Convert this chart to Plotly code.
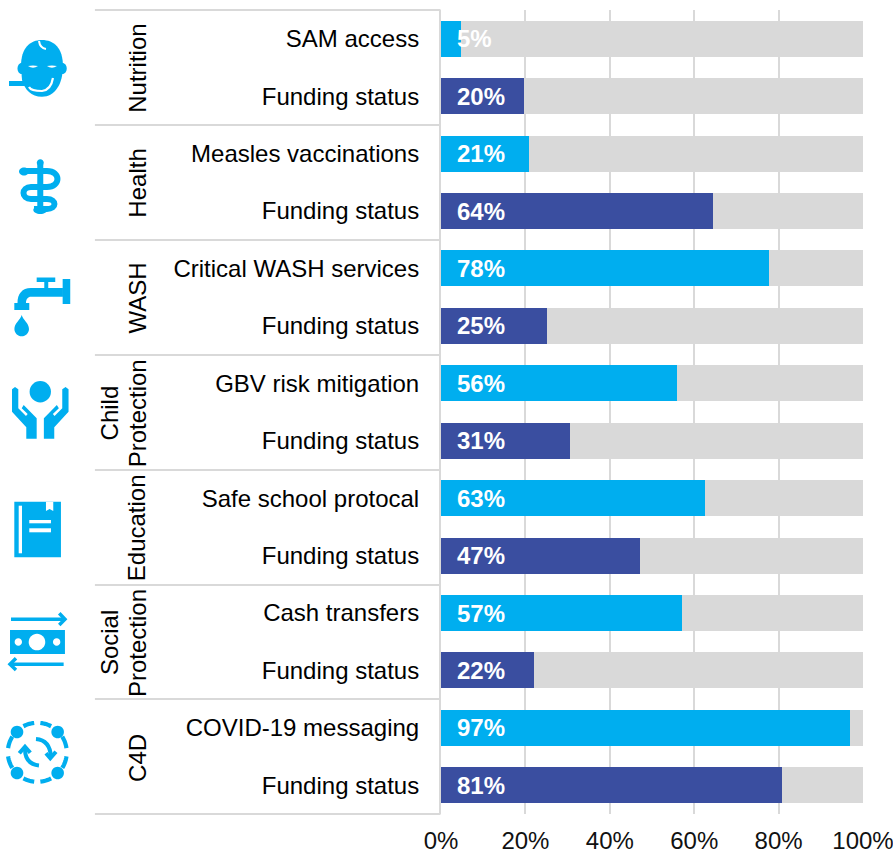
import re
import numpy as np
import plotly.graph_objects as go

indicators = ["SAM access", "Funding status", "Measles vaccinations", "Funding status",
              "Critical WASH services", "Funding status", "GBV risk mitigation", "Funding status",
              "Safe school protocal", "Funding status", "Cash transfers", "Funding status",
              "COVID-19 messaging", "Funding status"]
values = [4.8, 19.7, 20.8, 64.4, 77.8, 25.1, 55.9, 30.6, 62.5, 47.1, 57.1, 22.1, 96.8, 80.8]
value_labels = ["5%", "20%", "21%", "64%", "78%", "25%", "56%", "31%", "63%", "47%", "57%", "22%", "97%", "81%"]
remainder = [round(100 - v, 1) for v in values]
groups = [["Nutrition"], ["Health"], ["WASH"], ["Child", "Protection"], ["Education"], ["Social", "Protection"], ["C4D"]]
group_rows = [0.5, 2.5, 4.5, 6.5, 8.5, 10.5, 12.5]
x_ticks = [0, 20, 40, 60, 80, 100]
x_tick_labels = ["0%", "20%", "40%", "60%", "80%", "100%"]

CYAN = "#00AEEF"
NAVY = "#3A4EA0"
GREY = "#D9D9D9"
FONT = "Liberation Sans"
SIZE = 24

W, H = 893, 852
L, R, T, B = 440.5, 863.0, 10.0, 814.0
rows = list(range(len(values)))
bar_colors = [CYAN if i % 2 == 0 else NAVY for i in rows]


def px(x):
    return (x - L) / (R - L)


def py(y):
    return 1 - (y - T) / (B - T)


def to_paper(path):
    out, is_x = [], True
    for tok in re.findall(r"[A-Za-z]|-?\d+\.?\d*", path):
        if tok.isalpha():
            out.append(tok)
            is_x = True
        else:
            out.append(f"{px(float(tok)):.5f}" if is_x else f"{py(float(tok)):.5f}")
            is_x = not is_x
    return " ".join(out)


shapes = []


def fill(path, color=CYAN):
    shapes.append(dict(type="path", xref="paper", yref="paper", path=to_paper(path),
                       fillcolor=color, line=dict(width=0), layer="above"))


def stroke(path, width, color=CYAN):
    shapes.append(dict(type="path", xref="paper", yref="paper", path=to_paper(path),
                       fillcolor="rgba(0,0,0,0)", line=dict(color=color, width=width), layer="above"))


def ell(cx, cy, rx, ry=None):
    ry = rx if ry is None else ry
    k = 0.5523
    return (f"M {cx-rx} {cy} C {cx-rx} {cy-k*ry} {cx-k*rx} {cy-ry} {cx} {cy-ry} "
            f"C {cx+k*rx} {cy-ry} {cx+rx} {cy-k*ry} {cx+rx} {cy} "
            f"C {cx+rx} {cy+k*ry} {cx+k*rx} {cy+ry} {cx} {cy+ry} "
            f"C {cx-k*rx} {cy+ry} {cx-rx} {cy+k*ry} {cx-rx} {cy} Z")


def rect(x0, y0, x1, y1):
    return f"M {x0} {y0} L {x1} {y0} L {x1} {y1} L {x0} {y1} Z"


def arc(cx, cy, r, a0, a1):
    a = np.radians(np.linspace(a0, a1, 8))
    pts = [f"{cx + r*np.cos(t):.2f} {cy - r*np.sin(t):.2f}" for t in a]
    return "M " + " L ".join(pts)


# group separators
for y in [10, 125, 240, 355, 470, 585, 699, 814]:
    stroke(f"M 94 {y} L 440 {y}", 2, GREY)

# baby (Nutrition)
fill("M 20 66 C 20 48 29 40 41 40 C 53 40 62 48 62 66 C 62 84 54 96.7 41 96.7 C 30 96.7 24 90 21 80 Z")
fill(ell(20.5, 68.5, 4, 5.5))
fill(ell(61.5, 68.5, 4.3, 5.5))
stroke("M 38 41 Q 39 48 45 49", 2, "white")
fill("M 27 66 Q 32 69.5 37 66 Q 32 65 27 66 Z", "white")
fill("M 46 66 Q 51 69.5 56 66 Q 51 65 46 66 Z", "white")
stroke("M 8 83.5 L 38 83.5", 5)
stroke("M 28 87 Q 30 91 41 91 Q 50 90 52 78", 2.2, "white")

# staff (Health)
stroke("M 39.3 164 L 39.3 213", 6)
fill(ell(39.3, 162.7, 3.5))
fill(ell(39.3, 210, 7, 4))
stroke("M 24 171 L 46 171 C 60 171 60 187 46 187 L 30 187 C 20 187 20 199 30 199 L 46 199 C 56 199 56 209 46 209 L 33 209", 6)
fill(ell(23, 171.5, 5, 4))

# tap (WASH)
fill(rect(61.7, 279, 69.3, 304))
fill(rect(35.7, 277.5, 54.3, 282))
fill(rect(43.3, 282, 47.3, 290))
fill("M 62 288 L 30 288 C 21 288 16.5 294 16.5 303 L 25 303 C 25 299 27 296.7 30 296.7 L 62 296.7 Z")
fill(rect(13.3, 303, 28.3, 310))
fill("M 20.7 315 C 22 320 28 323 28 329 C 28 333 24.7 336.3 20.7 336.3 C 16.7 336.3 13.4 333 13.4 329 C 13.4 323 19.4 320 20.7 315 Z")

# hands (Child Protection)
fill(ell(39.3, 391.7, 10.7))
fill("M 11 389.3 L 14 387 L 17.3 389.3 L 17.3 408.3 L 25 416 L 26.7 414 L 20.7 408.3 L 22.7 405 L 35.7 418.3 L 35.7 438.7 L 25.3 438.7 L 25.3 427.3 L 11 411.7 Z")
fill("M 67.6 389.3 L 64.6 387 L 61.3 389.3 L 61.3 408.3 L 53.6 416 L 51.9 414 L 57.9 408.3 L 55.9 405 L 42.9 418.3 L 42.9 438.7 L 53.3 438.7 L 53.3 427.3 L 67.6 411.7 Z")

# book (Education)
fill(rect(13.3, 501.7, 60, 557.3))
fill(rect(17.7, 505.7, 21, 553.3), "white")
fill("M 45 501.7 L 52.3 501.7 L 52.3 511 L 48.6 509 L 45 511 Z", "white")
fill(rect(28.3, 520, 50, 523.3), "white")
fill(rect(28.3, 528.3, 50, 532.3), "white")

# money (Social Protection)
stroke("M 10 619.3 L 63 619.3", 3.5)
stroke("M 58.3 613.3 L 64 619.3 L 58.3 625", 3.5)
fill(rect(9, 630, 64, 654))
fill(ell(36, 642, 8.3), "white")
fill(ell(17.3, 642, 3.7), "white")
fill(ell(55.7, 642, 3.7), "white")
stroke("M 9.5 664.3 L 62.7 664.3", 3.5)
stroke("M 15 658.3 L 9 664.3 L 15 670", 3.5)

# ring (C4D)
for cx, cy in [(16, 732), (56.7, 732), (16, 773), (56.7, 773)]:
    fill(ell(cx, cy, 6.3))
for a0, a1 in [(8, 32), (-32, -8), (148, 172), (188, 212), (62, 84), (96, 118), (242, 264), (276, 298)]:
    stroke(arc(36.3, 752.3, 29.5, a0, a1), 4.2)
stroke("M 35 739 Q 49 740 50 757", 4)
stroke("M 45 753.3 L 49.3 758.3 L 55 751.7", 4)
stroke("M 24 749 Q 24 764 38 765.5", 4)
stroke("M 18.3 753.3 L 24 746.7 L 29.3 752.7", 4)

annotations = [
    dict(x=0, y=r, xref="x", yref="y", xanchor="left", yanchor="middle", xshift=14, yshift=0,
         text=f"<b>{t}</b>", showarrow=False, font=dict(family=FONT, size=SIZE, color="white"))
    for r, t in zip(rows, value_labels)
]
for parts, r in zip(groups, group_rows):
    for i, part in enumerate(reversed(parts)):
        annotations.append(dict(x=px(136.5 - 28 * i), y=r, xref="paper", yref="y", xanchor="center",
                                yanchor="middle", yshift=-1, text=part, textangle=-90, showarrow=False,
                                font=dict(family=FONT, size=SIZE, color="black")))

fig = go.Figure()
fig.add_bar(y=rows, x=values, orientation="h", marker=dict(color=bar_colors, line=dict(width=0)),
            width=0.627, hoverinfo="skip", showlegend=False)
fig.add_bar(y=rows, x=remainder, orientation="h", marker=dict(color=GREY, line=dict(width=0)),
            width=0.627, hoverinfo="skip", showlegend=False)

fig.update_layout(
    width=W, height=H, barmode="stack", margin=dict(l=L, r=W - R, t=T, b=H - B, pad=0, autoexpand=False),
    paper_bgcolor="white", plot_bgcolor="white", showlegend=False,
    font=dict(family=FONT, size=SIZE, color="black"),
    shapes=shapes, annotations=annotations,
    xaxis=dict(range=[0, 100], tickmode="array", tickvals=x_ticks, ticktext=x_tick_labels,
               showgrid=True, gridcolor=GREY, gridwidth=2, zeroline=False, showline=False,
               ticks="", ticklabelstandoff=10, ticklabeloverflow="allow", automargin=False,
               tickfont=dict(family=FONT, size=SIZE, color="#111111")),
    yaxis=dict(range=[13.5, -0.5], tickmode="array", tickvals=rows, ticktext=indicators,
               showgrid=False, zeroline=False, showline=True, linecolor=GREY, linewidth=2,
               ticks="", ticklabelstandoff=15, automargin=False,
               tickfont=dict(family=FONT, size=SIZE, color="black")),
)
fig.write_html("out.html", post_script="document.body.style.margin='0';",
               config=dict(displayModeBar=False))
